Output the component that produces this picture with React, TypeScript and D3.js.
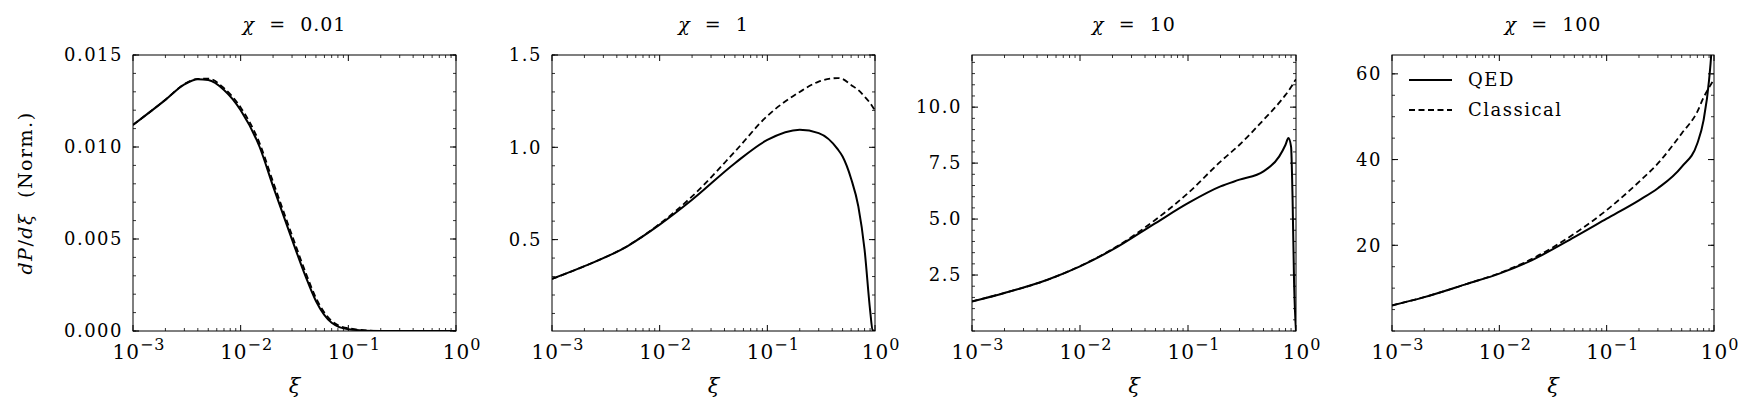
import * as d3 from 'd3';
import React from 'react';

// xi sample points
const chi01X = [1e-3, 2e-3, 3e-3, 4e-3, 5e-3, 7e-3, 1e-2, 1.5e-2, 2e-2, 3e-2, 4e-2, 5e-2, 7e-2, 1e-1, 0.2, 0.5, 1];
const chi01Qed = [0.0112, 0.01256, 0.0134, 0.01368, 0.01364, 0.0131, 0.0120, 0.0100, 0.00786, 0.00497, 0.00298, 0.00163, 0.00045, 0.0001, 0, 0, 0];
const chi01Cls = [0.0112, 0.01257, 0.01342, 0.0137, 0.01372, 0.0132, 0.01215, 0.0102, 0.0081, 0.0052, 0.0032, 0.0018, 0.00055, 0.00015, 0, 0, 0];

const chi1X = [1e-3, 2e-3, 5e-3, 1e-2, 2e-2, 5e-2, 0.1, 0.2, 0.3, 0.45, 0.5, 0.6, 0.7, 0.8, 0.9, 0.95, 1];
const chi1Qed = [0.287, 0.356, 0.464, 0.581, 0.716, 0.914, 1.04, 1.095, 1.077, 0.99, 0.95, 0.83, 0.68, 0.446, 0.12, 0.01, 0.005];
const chi1Cls = [0.287, 0.356, 0.465, 0.585, 0.734, 0.977, 1.17, 1.30, 1.356, 1.375, 1.37, 1.338, 1.31, 1.275, 1.24, 1.22, 1.20];

const chi10X = [1e-3, 2e-3, 5e-3, 1e-2, 2e-2, 5e-2, 0.1, 0.2, 0.3, 0.5, 0.7, 0.8, 0.85, 0.9, 0.93, 0.96, 1];
const chi10Qed = [1.32, 1.70, 2.29, 2.89, 3.63, 4.82, 5.71, 6.46, 6.76, 7.13, 7.80, 8.32, 8.62, 8.24, 5.86, 2.14, 0];
const chi10Cls = [1.32, 1.70, 2.29, 2.90, 3.66, 4.97, 6.16, 7.57, 8.32, 9.43, 10.2, 10.55, 10.72, 10.9, 11.0, 11.12, 11.25];

const chi100X = [1e-3, 2e-3, 5e-3, 1e-2, 2e-2, 5e-2, 0.1, 0.2, 0.3, 0.5, 0.7, 0.8, 0.9, 0.95, 1];
const chi100Qed = [5.97, 7.9, 11.0, 13.4, 16.5, 21.9, 26.2, 30.5, 33.3, 38.3, 43.8, 49.2, 58.6, 66, 80];
const chi100Cls = [5.97, 7.9, 11.0, 13.5, 16.8, 22.7, 28.2, 34.8, 39.1, 46.1, 51.2, 54.5, 56.8, 57.8, 58.8];

const titles = ['0.01', '1', '10', '100'];
const yMajor = [[0, 0.005, 0.01, 0.015], [0.5, 1.0, 1.5], [2.5, 5.0, 7.5, 10.0], [20, 40, 60]];
const yMinorStep = [0.001, 0.1, 0.5, 5];
const yLabelFmt = ['.3f', '.1f', '.1f', 'd'];
const yDomains = [[0, 0.015], [0.005, 1.5], [0, 12.33], [0, 64.4]];
const xDecades = [-3, -2, -1, 0];

const panels = [
  { x: chi01X, qed: chi01Qed, cls: chi01Cls, left: 133, right: 456 },
  { x: chi1X, qed: chi1Qed, cls: chi1Cls, left: 552, right: 875 },
  { x: chi10X, qed: chi10Qed, cls: chi10Cls, left: 972, right: 1296 },
  { x: chi100X, qed: chi100Qed, cls: chi100Cls, left: 1392, right: 1714 },
];

const top = 55;
const bottom = 331;
const font = "'DejaVu Serif', serif";

function Panel({ p, i }: { p: any; i: number }) {
  const x = d3.scaleLog().domain([1e-3, 1]).range([p.left, p.right]);
  const y = d3.scaleLinear().domain(yDomains[i]).range([bottom, top]);
  const line = d3.line<number>()
    .x((_, k) => x(p.x[k]))
    .y((d) => y(d))
    .curve(d3.curveMonotoneX);
  const minorX: number[] = [];
  for (let e = -3; e < 0; e++) for (let m = 2; m <= 9; m++) minorX.push(m * Math.pow(10, e));
  const [y0, y1] = yDomains[i];
  const minorY: number[] = [];
  for (let v = Math.ceil(y0 / yMinorStep[i]) * yMinorStep[i]; v <= y1 + 1e-9; v += yMinorStep[i]) minorY.push(v);
  const fmt = d3.format(yLabelFmt[i]);
  const clipId = 'clip' + i;
  const midX = (p.left + p.right) / 2;
  return (
    <g>
      <clipPath id={clipId}>
        <rect x={p.left} y={top} width={p.right - p.left} height={bottom - top} />
      </clipPath>
      <text x={midX} y={31} textAnchor="middle" fontSize={19} fontFamily={font} letterSpacing={1} style={{ whiteSpace: 'pre' }}>
        <tspan fontStyle="italic">χ</tspan>{'  =  '}{titles[i]}
      </text>
      {minorX.map((v) => (
        <g key={'mx' + v} stroke="#000" strokeWidth={0.8}>
          <line x1={x(v)} x2={x(v)} y1={bottom} y2={bottom - 3} />
          <line x1={x(v)} x2={x(v)} y1={top} y2={top + 3} />
        </g>
      ))}
      {xDecades.map((e) => (
        <g key={'Mx' + e}>
          <line x1={x(Math.pow(10, e))} x2={x(Math.pow(10, e))} y1={bottom} y2={bottom - 6} stroke="#000" />
          <line x1={x(Math.pow(10, e))} x2={x(Math.pow(10, e))} y1={top} y2={top + 6} stroke="#000" />
          <text x={x(Math.pow(10, e)) + 6} y={359} textAnchor="middle" fontSize={20} fontFamily={font} letterSpacing={1}>
            10<tspan dy={-9} fontSize={16}>{String(e).replace('-', '−')}</tspan>
          </text>
        </g>
      ))}
      {minorY.map((v) => (
        <g key={'my' + v} stroke="#000" strokeWidth={0.8}>
          <line x1={p.left} x2={p.left + 3} y1={y(v)} y2={y(v)} />
          <line x1={p.right} x2={p.right - 3} y1={y(v)} y2={y(v)} />
        </g>
      ))}
      {yMajor[i].map((v) => (
        <g key={'My' + v}>
          <line x1={p.left} x2={p.left + 6} y1={y(v)} y2={y(v)} stroke="#000" />
          <line x1={p.right} x2={p.right - 6} y1={y(v)} y2={y(v)} stroke="#000" />
          <text x={p.left - 10} y={y(v)} dy="0.35em" textAnchor="end" fontSize={18} fontFamily={font} letterSpacing={1.5}>
            {fmt(v)}
          </text>
        </g>
      ))}
      <g clipPath={`url(#${clipId})`} fill="none" stroke="#000" strokeWidth={2}>
        <path d={line(p.cls) || ''} strokeDasharray="6,3.5" strokeWidth={1.8} />
        <path d={line(p.qed) || ''} />
      </g>
      <rect x={p.left} y={top} width={p.right - p.left} height={bottom - top} fill="none" stroke="#000" strokeWidth={1} />
      <text x={midX} y={393} textAnchor="middle" fontSize={21} fontStyle="italic" fontFamily={font}>ξ</text>
    </g>
  );
}

export default function App() {
  const legend = [
    { label: 'QED', dash: undefined, y: 80 },
    { label: 'Classical', dash: '6,3.5', y: 110 },
  ];
  return (
    <div style={{ position: 'absolute', left: 0, top: 0 }}>
      <svg width={1750} height={418} style={{ display: 'block', background: '#fff' }}>
        {panels.map((p, i) => <Panel key={i} p={p} i={i} />)}
        <text transform={`translate(32,${(top + bottom) / 2}) rotate(-90)`} textAnchor="middle" fontSize={19} fontFamily={font} letterSpacing={1.5} style={{ whiteSpace: 'pre' }}>
          <tspan fontStyle="italic">dP</tspan>/<tspan fontStyle="italic">dξ</tspan>{'  (Norm.)'}
        </text>
        {legend.map((l) => (
          <g key={l.label}>
            <line x1={1409} x2={1452} y1={l.y} y2={l.y} stroke="#000" strokeWidth={2} strokeDasharray={l.dash} />
            <text x={1468} y={l.y} dy="0.35em" fontSize={18} fontFamily={font} letterSpacing={1.5}>{l.label}</text>
          </g>
        ))}
      </svg>
    </div>
  );
}
